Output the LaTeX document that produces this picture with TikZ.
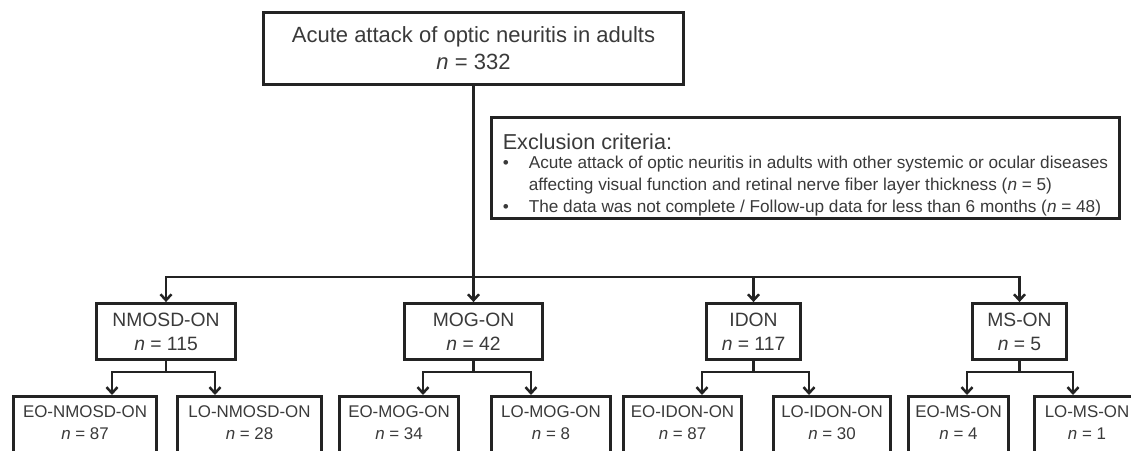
\documentclass[tikz,border=0pt]{standalone}
\usepackage{fontspec}
\setmainfont{Liberation Sans}
\usetikzlibrary{arrows.meta,calc}
\definecolor{txtgray}{RGB}{58,58,58}
\definecolor{linegray}{RGB}{35,35,35}
\tikzset{
  box/.style={draw=linegray,line width=2.8pt,text=txtgray,align=center,inner sep=0pt},
  mainbox/.style={box,font=\fontsize{19.3}{24}\selectfont,minimum height=56pt},
  subbox/.style={box,font=\fontsize{16.9}{22}\selectfont,anchor=north,inner ysep=9pt,text depth=52pt},
  conn/.style={draw=linegray,line width=2.5pt},
  arr/.style={conn,-{Straight Barb[length=6pt,width=11pt]}}
}
\newcommand{\nn}{\textit{n}}
\begin{document}
\begin{tikzpicture}[x=1pt,y=-1pt]
\useasboundingbox[fill=white] (0,0) rectangle (1131,450);
\node[box,font=\fontsize{22}{27}\selectfont,minimum width=420pt,minimum height=72pt] (onset) at (473.5,48.5)
  {Acute attack of optic neuritis in adults\\\nn{} = 332};
\node[box,font=\fontsize{17.2}{20.5}\selectfont,align=left,inner xsep=11pt,minimum width=628pt,minimum height=101pt] (excl) at (805.5,168)
  {\rule{0pt}{30pt}{\fontsize{21.6}{22}\selectfont Exclusion criteria:}\\[-2pt]
   \makebox[26pt][l]{\textbullet}Acute attack of optic neuritis in adults with other systemic or ocular diseases\\[1.5pt]
   \makebox[26pt][l]{}affecting visual function and retinal nerve fiber layer thickness (\nn{} = 5)\\[1.5pt]
   \makebox[26pt][l]{\textbullet}The data was not complete / Follow-up data for less than 6 months (\nn{} = 48)};
\node[mainbox,minimum width=139pt] (nmosd) at (166,331.5) {NMOSD-ON\\\nn{} = 115};
\node[mainbox,minimum width=138pt] (mog) at (473.5,331.5) {MOG-ON\\\nn{} = 42};
\node[mainbox,minimum width=94pt] (idon) at (753.5,331.5) {IDON\\\nn{} = 117};
\node[mainbox,minimum width=94pt] (ms) at (1019.5,331.5) {MS-ON\\\nn{} = 5};
\node[subbox,minimum width=143pt] (eonm) at (85,395) {EO-NMOSD-ON\\\nn{} = 87};
\node[subbox,minimum width=144pt] (lonm) at (249.5,395) {LO-NMOSD-ON\\\nn{} = 28};
\node[subbox,minimum width=119pt] (eomog) at (399,395) {EO-MOG-ON\\\nn{} = 34};
\node[subbox,minimum width=119pt] (lomog) at (551,395) {LO-MOG-ON\\\nn{} = 8};
\node[subbox,minimum width=118pt] (eoid) at (682.5,395) {EO-IDON-ON\\\nn{} = 87};
\node[subbox,minimum width=117pt] (loid) at (832,395) {LO-IDON-ON\\\nn{} = 30};
\node[subbox,minimum width=100pt] (eoms) at (958.5,395) {EO-MS-ON\\\nn{} = 4};
\node[subbox,minimum width=105pt] (loms) at (1087,395) {LO-MS-ON\\\nn{} = 1};
\coordinate (bus) at (473.5,277);
\draw[arr] (onset.south) -- (mog.north);
\draw[arr] (bus) -| (nmosd.north);
\draw[arr] (bus) -| (idon.north);
\draw[arr] (bus) -| (ms.north);
\draw[arr] (nmosd.south) -- ++(0,11) -| ([xshift=27pt]eonm.north);
\draw[arr] (nmosd.south) -- ++(0,11) -| ([xshift=-34.5pt]lonm.north);
\draw[arr] (mog.south) -- ++(0,11) -| ([xshift=24pt]eomog.north);
\draw[arr] (mog.south) -- ++(0,11) -| ([xshift=-20pt]lomog.north);
\draw[arr] (idon.south) -- ++(0,11) -| ([xshift=19.5pt]eoid.north);
\draw[arr] (idon.south) -- ++(0,11) -| ([xshift=-23pt]loid.north);
\draw[arr] (ms.south) -- ++(0,11) -| ([xshift=8.5pt]eoms.north);
\draw[arr] (ms.south) -- ++(0,11) -| ([xshift=-14pt]loms.north);
\end{tikzpicture}
\end{document}
